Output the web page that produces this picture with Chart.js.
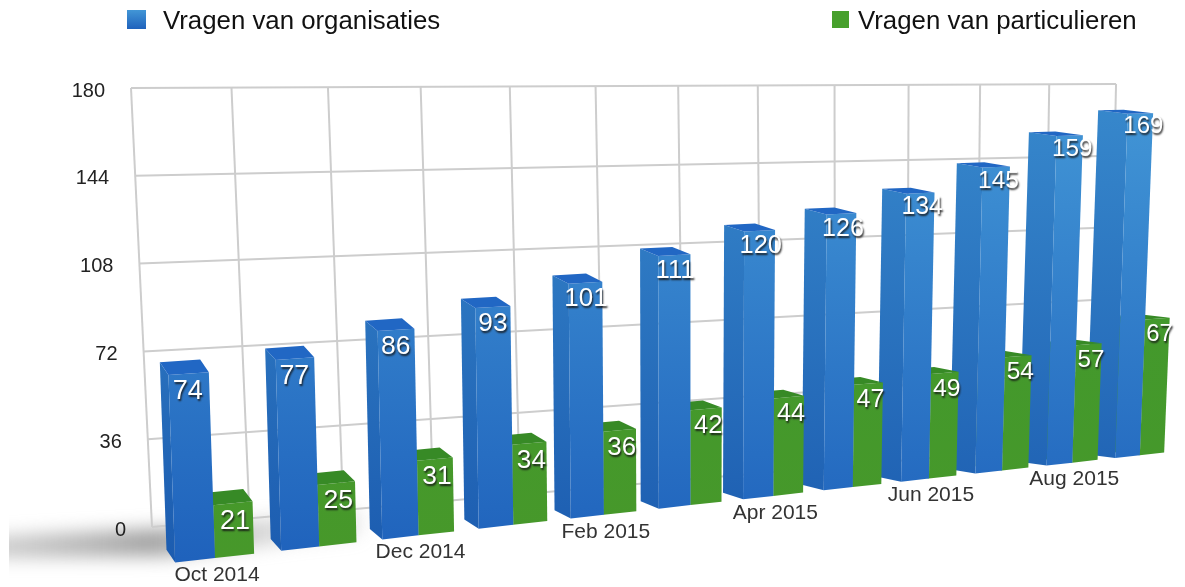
<!DOCTYPE html>
<html>
<head>
<meta charset="utf-8">
<title>Vragen</title>
<script src="https://cdn.jsdelivr.net/npm/chart.js@4"></script>
<style>
  html, body { margin: 0; padding: 0; background: #fff; }
  canvas { display: block; filter: blur(0.7px); }
</style>
</head>
<body>
<canvas id="bar-chart" width="1185" height="587"></canvas>
<script>
var months = ["Oct 2014", "Nov 2014", "Dec 2014", "Jan 2015", "Feb 2015", "Mar 2015",
              "Apr 2015", "May 2015", "Jun 2015", "Jul 2015", "Aug 2015", "Sep 2015"];
var organisaties = [74, 77, 86, 93, 101, 111, 120, 126, 134, 145, 159, 169];
var particulieren = [21, 25, 31, 34, 36, 42, 44, 47, 49, 54, 57, 67];
var seriesNames = ["Vragen van organisaties", "Vragen van particulieren"];

var font = '"Liberation Sans", Arial, sans-serif';

// bars plane: t = category position, v = 0..1 of the value axis
function barPlane(t, v) {
  var w = 1 + 0.0245 * t;
  return {
    x: (215 + 112 * t + v * (-15 + 3 * t)) / w,
    y: (558 + 1.8 * t + v * (-452 - 0.93 * t)) / w
  };
}

// back wall: s = grid column 0..12, v = 0..1
function wallPlane(s, v) {
  var w = 1 + 0.0208 * s;
  return {
    x: (152 + 102.75 * s + v * (-21 + 2.55 * s)) / w,
    y: (527 + 2.125 * s + v * (-439 - 0.708 * s)) / w
  };
}

function depthAt(t) {
  var k = Math.max(0, 1 - t / 11);
  return { x: -(9 + 1.9 * t), y: -(3.5 + 9 * Math.pow(k, 1.5)) };
}

function quad(ctx, pts, fill) {
  ctx.beginPath();
  ctx.moveTo(pts[0].x, pts[0].y);
  for (var i = 1; i < pts.length; i++) ctx.lineTo(pts[i].x, pts[i].y);
  ctx.closePath();
  ctx.fillStyle = fill;
  ctx.fill();
}

function shifted(p, d) {
  return { x: p.x + d.x, y: p.y + d.y };
}

function yGradient(ctx, top, bottom) {
  var g = ctx.createLinearGradient(0, 100, 0, 560);
  g.addColorStop(0, top);
  g.addColorStop(1, bottom);
  return g;
}

function drawShadow(ctx) {
  ctx.save();
  ctx.beginPath();
  ctx.rect(9, 495, 400, 92);
  ctx.clip();
  ctx.filter = "blur(9px)";
  var g = ctx.createLinearGradient(0, 0, 300, 0);
  g.addColorStop(0, "rgba(150,150,150,0.5)");
  g.addColorStop(0.5, "rgba(130,130,130,0.75)");
  g.addColorStop(1, "rgba(150,150,150,0.25)");
  ctx.fillStyle = g;
  ctx.beginPath();
  ctx.moveTo(-20, 537);
  ctx.lineTo(170, 528);
  ctx.lineTo(360, 510);
  ctx.lineTo(360, 535);
  ctx.lineTo(170, 556);
  ctx.lineTo(-20, 558);
  ctx.closePath();
  ctx.fill();
  ctx.restore();
}

function drawWall(chart) {
  var ctx = chart.ctx, yScale = chart.scales.y, area = chart.chartArea;
  ctx.save();
  ctx.strokeStyle = "#cdcdcd";
  ctx.lineWidth = 2;
  yScale.ticks.forEach(function (tick) {
    var v = (area.bottom - yScale.getPixelForValue(tick.value)) / area.height;
    var a = wallPlane(0, v), b = wallPlane(12, v);
    ctx.beginPath();
    ctx.moveTo(a.x, a.y);
    ctx.lineTo(b.x, b.y);
    ctx.stroke();
    ctx.fillStyle = "#222";
    ctx.font = "20px " + font;
    ctx.textAlign = "right";
    ctx.textBaseline = "middle";
    ctx.fillText(tick.label, a.x - 26, a.y + 3);
  });
  for (var s = 0; s <= 12; s++) {
    var a = wallPlane(s, 0), b = wallPlane(s, 1);
    ctx.beginPath();
    ctx.moveTo(a.x, a.y);
    ctx.lineTo(b.x, b.y);
    ctx.stroke();
  }
  ctx.restore();
}

function drawBox(chart, el, colors) {
  var ctx = chart.ctx, area = chart.chartArea;
  var step = area.width / months.length;
  var tl = (el.x - el.width / 2 - area.left) / step - 0.5;
  var tr = (el.x + el.width / 2 - area.left) / step - 0.5;
  var v = (area.bottom - el.y) / area.height;
  var d = depthAt((tl + tr) / 2);

  var frontTL = barPlane(tl, v), frontTR = barPlane(tr, v);
  var frontBL = barPlane(tl, 0), frontBR = barPlane(tr, 0);
  var backTL = shifted(frontTL, d), backTR = shifted(frontTR, d), backBL = shifted(frontBL, d);

  quad(ctx, [backTL, frontTL, frontBL, backBL], yGradient(ctx, colors.sideTop, colors.sideBottom));
  quad(ctx, [frontTL, frontTR, frontBR, frontBL], yGradient(ctx, colors.top, colors.bottom));
  quad(ctx, [backTL, backTR, frontTR, frontTL], colors.cap);
}

var blueColors = { top: "#4296d6", bottom: "#1f62bc", sideTop: "#3788cc", sideBottom: "#1c5cb0", cap: "#2167c4" };
var greenColors = { top: "#3f9a2e", bottom: "#47982a", sideTop: "#3b8c28", sideBottom: "#3b8c28", cap: "#378a26" };

function drawLabels(chart) {
  var ctx = chart.ctx, area = chart.chartArea;
  var step = area.width / months.length;
  ctx.save();
  ctx.fillStyle = "#fff";
  ctx.textAlign = "center";
  ctx.textBaseline = "middle";
  ctx.shadowColor = "rgba(20,20,20,0.9)";
  ctx.shadowOffsetX = 1;
  ctx.shadowOffsetY = 2;
  ctx.shadowBlur = 2;
  [0, 1].forEach(function (n) {
    var values = chart.data.datasets[n].data;
    chart.getDatasetMeta(n).data.forEach(function (el, i) {
      var t = (el.x - area.left) / step - 0.5;
      var k = t / 11;
      var p = barPlane(t, (area.bottom - el.y) / area.height);
      var dx = n === 0 ? -1 + 4 * k : 2;
      var dy = n === 0 ? 18 - 5 * k : 18 - 2 * k;
      ctx.font = (27 - 3 * k) + "px " + font;
      ctx.fillText(String(values[i]), p.x + dx, p.y + dy);
    });
  });
  ctx.restore();
}

function drawMonths(chart) {
  var ctx = chart.ctx;
  ctx.save();
  ctx.fillStyle = "#333";
  ctx.font = "21px " + font;
  ctx.textAlign = "center";
  ctx.textBaseline = "middle";
  months.forEach(function (label, i) {
    if (i % 2 !== 0) return;
    var p = barPlane(i, 0);
    ctx.fillText(label, p.x + 2, p.y + 17);
  });
  ctx.restore();
}

function drawLegend(chart) {
  var ctx = chart.ctx;
  var g1 = ctx.createLinearGradient(0, 10, 0, 29);
  g1.addColorStop(0, "#4296d6");
  g1.addColorStop(1, "#1f62bc");
  ctx.fillStyle = g1;
  ctx.fillRect(127, 10, 19, 19);
  ctx.fillStyle = "#47a02c";
  ctx.fillRect(832, 11, 17, 17);
  ctx.fillStyle = "#111";
  ctx.font = "25.8px " + font;
  ctx.textAlign = "left";
  ctx.textBaseline = "middle";
  ctx.fillText(seriesNames[0], 163, 22);
  ctx.fillText(seriesNames[1], 858, 22);
}

var perspectivePlugin = {
  id: "perspective",
  beforeDatasetsDraw: function (chart) {
    drawShadow(chart.ctx);
    drawWall(chart);
    var blue = chart.getDatasetMeta(0).data, green = chart.getDatasetMeta(1).data;
    // right to left, the nearer green sits over the next blue
    for (var i = months.length - 1; i >= 0; i--) {
      drawBox(chart, green[i], greenColors);
      drawBox(chart, blue[i], blueColors);
    }
    drawLabels(chart);
    drawMonths(chart);
    drawLegend(chart);
    return false;
  }
};

new Chart(document.getElementById("bar-chart"), {
  type: "bar",
  data: {
    labels: months,
    datasets: [
      { label: seriesNames[0], data: organisaties, backgroundColor: "#2f7fcc" },
      { label: seriesNames[1], data: particulieren, backgroundColor: "#47a02c" }
    ]
  },
  options: {
    responsive: false,
    animation: false,
    layout: { padding: { left: 130, right: 15, top: 88, bottom: 55 } },
    categoryPercentage: 0.74,
    barPercentage: 1,
    plugins: { legend: { display: false }, tooltip: { enabled: false } },
    scales: {
      x: { display: false },
      y: { display: false, min: 0, max: 180, ticks: { stepSize: 36 } }
    }
  },
  plugins: [perspectivePlugin]
});
</script>
</body>
</html>
